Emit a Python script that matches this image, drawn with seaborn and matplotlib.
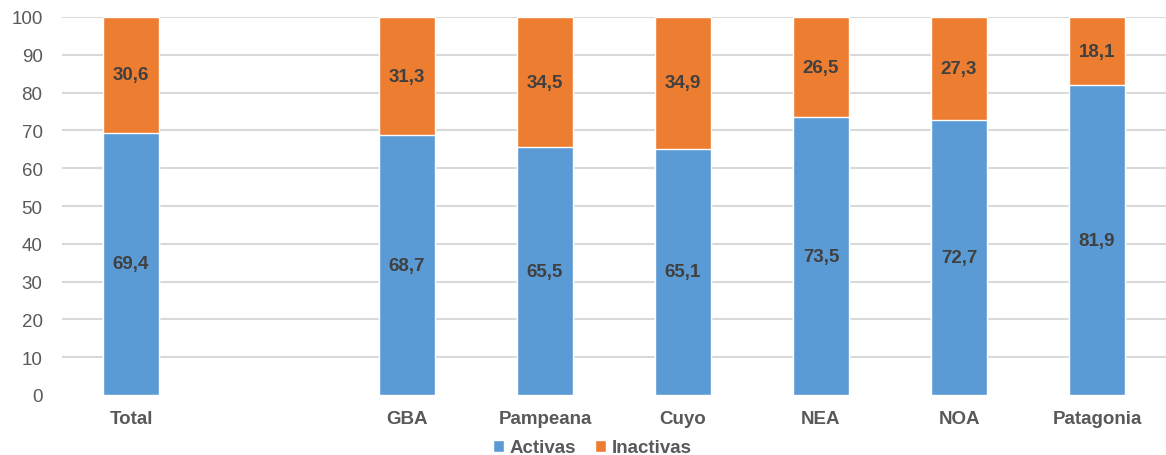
import matplotlib
matplotlib.use("Agg")
import matplotlib.pyplot as plt
from matplotlib.patches import Patch
import seaborn as sns
import pandas as pd

categories = ["Total", " ", "GBA", "Pampeana", "Cuyo", "NEA", "NOA", "Patagonia"]
regions = ["Total", "GBA", "Pampeana", "Cuyo", "NEA", "NOA", "Patagonia"]
activas = [69.4, 68.7, 65.5, 65.1, 73.5, 72.7, 81.9]
inactivas = [30.6, 31.3, 34.5, 34.9, 26.5, 27.3, 18.1]
y_ticks = [0, 10, 20, 30, 40, 50, 60, 70, 80, 90, 100]

BLUE = "#5B9BD5"
ORANGE = "#ED7D31"

sns.set_theme(style="white")
plt.rcParams["font.family"] = ["Liberation Sans", "DejaVu Sans"]

df = pd.DataFrame({"region": regions, "activas": activas, "inactivas": inactivas})
df["total"] = df["activas"] + df["inactivas"]

fig = plt.figure(figsize=(11.66, 4.56), dpi=100)
ax = fig.add_axes([62 / 1166, 1 - 396 / 456, 1 - 62 / 1166, (396 - 18) / 456])

sns.barplot(data=df, x="region", y="total", order=categories, color=ORANGE,
            width=0.41, saturation=1, ax=ax, zorder=2)
sns.barplot(data=df, x="region", y="activas", order=categories, color=BLUE,
            width=0.41, saturation=1, ax=ax, zorder=3)

pos = {c: i for i, c in enumerate(categories)}
for r, a, t in zip(regions, activas, inactivas):
    x = pos[r]
    ax.text(x, a / 2, f"{a:.1f}".replace(".", ","), ha="center", va="center",
            fontsize=13.5, fontweight="bold", color="#404040", zorder=5)
    ax.text(x, a + t / 2, f"{t:.1f}".replace(".", ","), ha="center", va="center",
            fontsize=13.5, fontweight="bold", color="#404040", zorder=5)

ax.set_ylim(0, 100)
ax.set_xlim(-0.5, len(categories) - 0.5)
ax.set_yticks(y_ticks)
ax.set_yticklabels([str(v) for v in y_ticks])
ax.set_xlabel("")
ax.set_ylabel("")
for v in y_ticks[1:]:
    ax.axhline(v, color="#D9D9D9", lw=1.5, zorder=1)
for s in ax.spines.values():
    s.set_visible(False)
ax.tick_params(axis="y", length=0, labelsize=13.5, labelcolor="#595959", pad=14)
ax.tick_params(axis="x", length=0, labelsize=13.5, labelcolor="#595959", pad=11)
for lbl in ax.get_xticklabels():
    lbl.set_fontweight("bold")

handles = [Patch(facecolor=BLUE, label="Activas"), Patch(facecolor=ORANGE, label="Inactivas")]
leg = fig.legend(handles=handles, loc="lower center", bbox_to_anchor=(0.508, -0.04), ncol=2,
                 frameon=False, handlelength=0.6, handleheight=0.6, handletextpad=0.3,
                 columnspacing=1.0, prop={"size": 13.5, "weight": "bold"})
for t in leg.get_texts():
    t.set_color("#595959")

fig.savefig("out.png", dpi=100)
